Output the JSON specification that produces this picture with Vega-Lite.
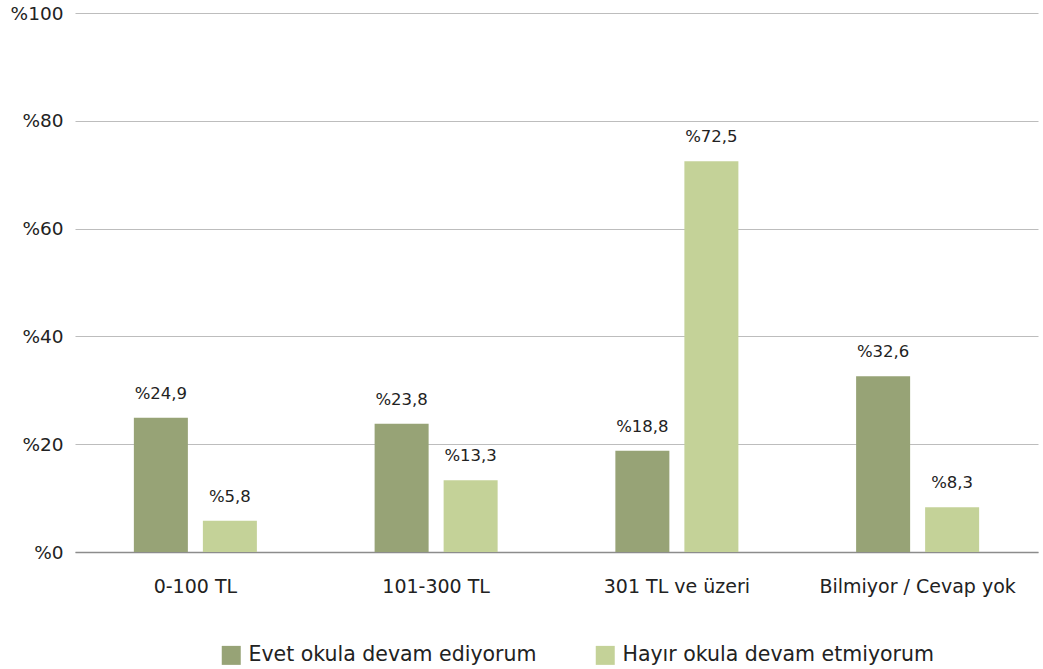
{
  "$schema": "https://vega.github.io/schema/vega-lite/v6.json",
  "autosize": {"type": "none"},
  "width": 963,
  "height": 539,
  "padding": {"left": 75, "top": 13, "right": 5, "bottom": 117},
  "background": "white",
  "data": {
    "values": [
      {"cat": "0-100 TL", "grp": "Evet okula devam ediyorum", "v": 24.9},
      {"cat": "0-100 TL", "grp": "Hayır okula devam etmiyorum", "v": 5.8},
      {"cat": "101-300 TL", "grp": "Evet okula devam ediyorum", "v": 23.8},
      {"cat": "101-300 TL", "grp": "Hayır okula devam etmiyorum", "v": 13.3},
      {"cat": "301 TL ve üzeri", "grp": "Evet okula devam ediyorum", "v": 18.8},
      {"cat": "301 TL ve üzeri", "grp": "Hayır okula devam etmiyorum", "v": 72.5},
      {"cat": "Bilmiyor / Cevap yok", "grp": "Evet okula devam ediyorum", "v": 32.6},
      {"cat": "Bilmiyor / Cevap yok", "grp": "Hayır okula devam etmiyorum", "v": 8.3}
    ]
  },
  "transform": [
    {"calculate": "'%' + replace(format(datum.v, '.1f'), '.', ',')", "as": "lbl"}
  ],
  "encoding": {
    "x": {
      "field": "cat", "type": "nominal", "sort": null, "title": null,
      "scale": {"paddingInner": 0, "paddingOuter": 0},
      "axis": {"labelAngle": 0, "labelFont": "DejaVu Sans", "labelFontSize": 19, "labelColor": "#222222",
               "labelLimit": 400, "labelPadding": 25, "ticks": false, "domain": true, "domainColor": "#8c8c8c",
               "domainWidth": 1.5, "grid": false}
    },
    "xOffset": {"field": "grp", "type": "nominal", "scale": {"paddingInner": 0.2174, "paddingOuter": 0.853}},
    "y": {
      "field": "v", "type": "quantitative", "title": null,
      "scale": {"domain": [0, 100], "nice": false},
      "axis": {"values": [0, 20, 40, 60, 80, 100], "labelExpr": "'%' + datum.value", "labelFont": "DejaVu Sans",
               "labelFontSize": 18.5, "labelColor": "#222222", "labelPadding": 12, "ticks": false, "domain": false,
               "gridColor": "#bdbdbd", "gridWidth": 1}
    }
  },
  "layer": [
    {
      "mark": {"type": "bar"},
      "encoding": {
        "color": {
          "field": "grp", "type": "nominal", "title": null,
          "scale": {"domain": ["Evet okula devam ediyorum", "Hayır okula devam etmiyorum"], "range": ["#97a376", "#c4d298"]},
          "legend": {"orient": "none", "legendX": 146, "legendY": 632, "direction": "horizontal",
                     "symbolType": "square", "symbolSize": 361, "symbolStrokeWidth": 0, "labelFont": "DejaVu Sans",
                     "labelFontSize": 20.5, "labelColor": "#222222", "labelOffset": 7, "columnPadding": 58, "labelLimit": 400}
        }
      }
    },
    {
      "mark": {"type": "text", "baseline": "bottom", "dy": -16, "font": "DejaVu Sans", "fontSize": 16.5, "color": "#222222"},
      "encoding": {"text": {"field": "lbl"}}
    }
  ],
  "config": {"view": {"stroke": null}}
}
